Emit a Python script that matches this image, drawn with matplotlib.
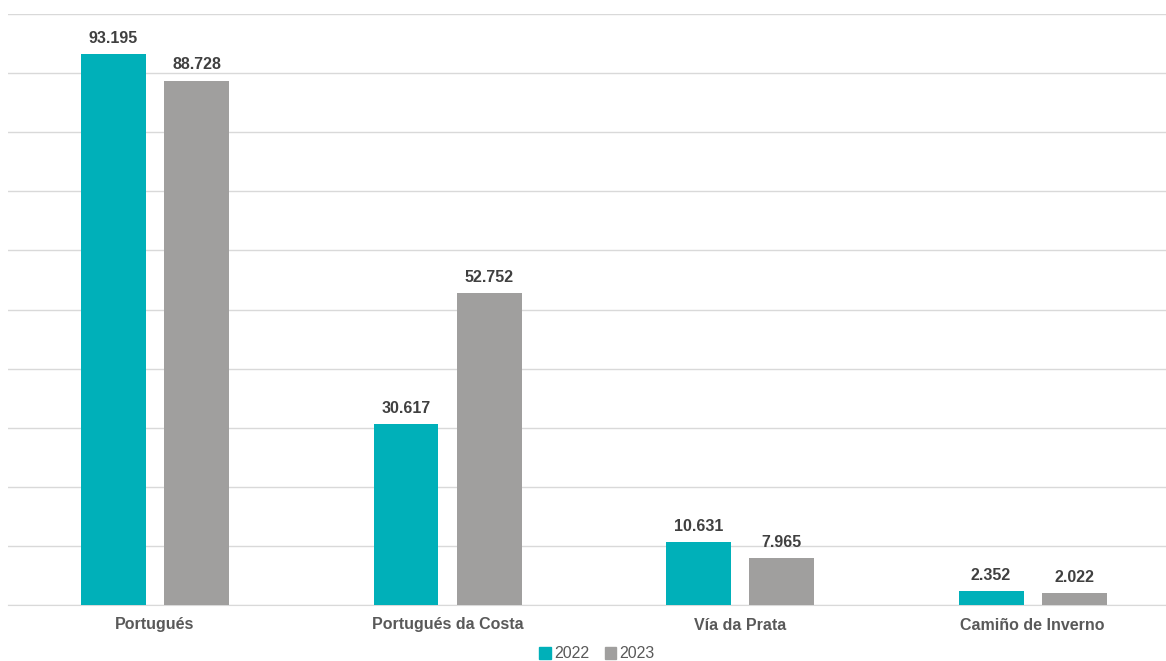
import matplotlib
matplotlib.use("Agg")
import matplotlib.pyplot as plt
from matplotlib.patches import Patch

categories = ["Portugués", "Portugués da Costa", "Vía da Prata", "Camiño de Inverno"]
series_names = ["2022", "2023"]
values_2022 = [93195, 30617, 10631, 2352]
values_2023 = [88728, 52752, 7965, 2022]
colors = ["#00B0B9", "#A09F9E"]

plt.rcParams['font.family'] = ['Liberation Sans', 'DejaVu Sans']

fig = plt.figure(figsize=(11.66, 6.61), dpi=100)
W, H = 1166, 661
ax = fig.add_axes([8 / W, (H - 605) / H, 1158 / W, 591 / H])

def fmt(v):
    return f"{v:,}".replace(",", ".")

x = list(range(len(categories)))
width = 0.222
off = 0.142
for vals, name, c, d in [(values_2022, series_names[0], colors[0], -off),
                         (values_2023, series_names[1], colors[1], off)]:
    xs = [i + d for i in x]
    bars = ax.bar(xs, vals, width=width, color=c, zorder=3, label=name)
    for b, v in zip(bars, vals):
        ax.annotate(fmt(v), (b.get_x() + b.get_width() / 2, v),
                    xytext=(0, 6), textcoords="offset points",
                    ha="center", va="bottom", fontsize=11.5, fontweight="bold",
                    color="#404040")

ax.set_ylim(0, 100000)
ax.set_xlim(-0.5026, 3.456)
ax.set_yticks(range(0, 100001, 10000))
ax.yaxis.grid(True, color="#D9D9D9", linewidth=1, zorder=0)
ax.tick_params(axis="y", left=False, labelleft=False)
ax.set_xticks(x)
ax.set_xticklabels(categories, fontsize=11.5, fontweight="bold", color="#595959")
ax.tick_params(axis="x", length=0, pad=9)
for s in ["top", "right", "left"]:
    ax.spines[s].set_visible(False)
ax.spines["bottom"].set_color("#D9D9D9")

handles = [Patch(color=colors[0]), Patch(color=colors[1])]
leg = fig.legend(handles, series_names, loc="center", bbox_to_anchor=(597 / W, 1 - 654 / H),
                 ncol=2, frameon=False, fontsize=11.5, handlelength=0.7, handleheight=0.7,
                 handletextpad=0.2, columnspacing=1.0, labelcolor="#595959",
                 borderpad=0.1)

fig.savefig("out.png", dpi=100)
